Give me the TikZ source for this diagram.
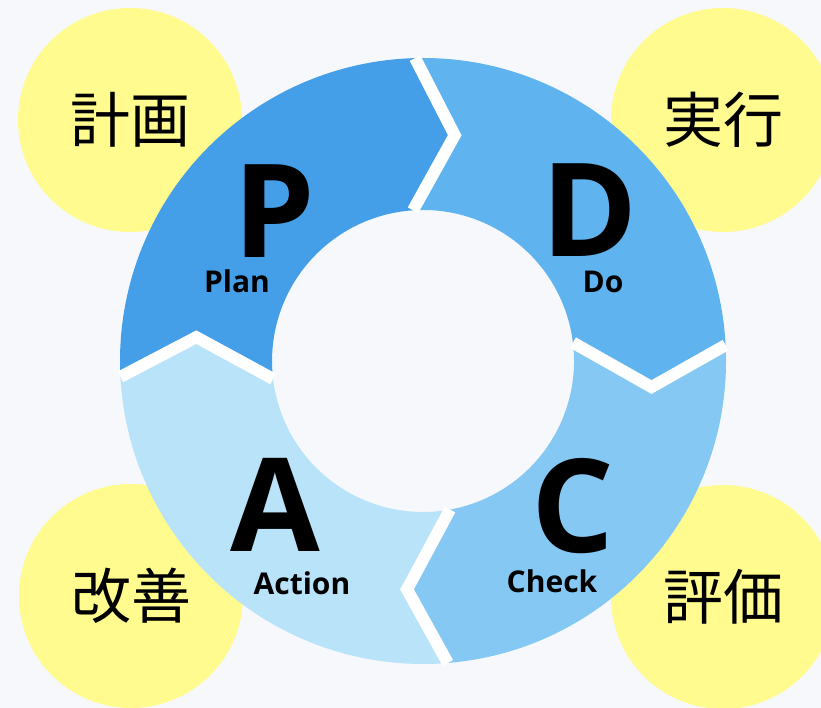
\documentclass[tikz,border=0pt]{standalone}
\usepackage{fontspec}
\setmainfont{Open Sans}
\newfontfamily\cjk{Noto Sans CJK JP}
\definecolor{bgcol}{HTML}{F7F8FC}
\definecolor{yel}{HTML}{FFFB8E}
\definecolor{pcol}{HTML}{449FE8}
\definecolor{dcol}{HTML}{5FB3EF}
\definecolor{ccol}{HTML}{85C8F3}
\definecolor{acol}{HTML}{B9E3F9}
\tikzset{
  yc/.style={circle, fill=yel, minimum size=224pt, inner sep=0pt,
    font=\cjk\fontsize{60}{60}\selectfont},
  bigletter/.style={anchor=base, inner sep=0pt, text depth=0pt, text height=94pt,
    font=\bfseries\fontsize{130}{130}\selectfont},
  smallword/.style={anchor=base, inner sep=0pt, text depth=0pt, text height=22pt,
    font=\bfseries\fontsize{30}{30}\selectfont},
  gapline/.style={draw=white, line width=12pt, line join=miter}
}
\begin{document}
\begin{tikzpicture}[x=1pt,y=1pt]
\useasboundingbox (0,0) rectangle (821,708);
\fill[bgcol] (0,0) rectangle (821,708);
% yellow circles
\node[yc] (keikaku) at (130,588) {計画};
\node[yc] (jikkou) at (723,588) {実行};
\node[yc] (kaizen) at (131,112) {改善};
\node[yc] (hyouka) at (723,111) {評価};
% ring
\begin{scope}[shift={(423,347)}]
  \coordinate (OT) at (91.5:303);
  \coordinate (AT) at (82:228);
  \coordinate (IT) at (93.8:151);
  \coordinate (OR) at (3:303);
  \coordinate (AR) at (-6.5:230);
  \coordinate (IR) at (7:151);
  \coordinate (OB) at (-85.3:303);
  \coordinate (AB) at (-94:229);
  \coordinate (IB) at (-79.7:151);
  \coordinate (OL) at (183:303);
  \coordinate (AL) at (174:228);
  \coordinate (IL) at (186.8:151);
  % Plan
  \fill[pcol] (OL) arc[start angle=183, end angle=91.5, radius=303]
    -- (AT) -- (IT) arc[start angle=93.8, end angle=186.8, radius=151]
    -- (AL) -- cycle;
  % Do
  \fill[dcol] (OT) arc[start angle=91.5, end angle=3, radius=303]
    -- (AR) -- (IR) arc[start angle=7, end angle=93.8, radius=151]
    -- (AT) -- cycle;
  % Check
  \fill[ccol] (OR) arc[start angle=3, end angle=-85.3, radius=303]
    -- (AB) -- (IB) arc[start angle=-79.7, end angle=7, radius=151]
    -- (AR) -- cycle;
  % Action
  \fill[acol] (OB) arc[start angle=-85.3, end angle=-177, radius=303]
    -- (AL) -- (IL) arc[start angle=-173.2, end angle=-79.7, radius=151]
    -- (AB) -- cycle;
  % white gaps
  \draw[gapline] (OT) -- (AT) -- (IT);
  \draw[gapline] (OR) -- (AR) -- (IR);
  \draw[gapline] (OB) -- (AB) -- (IB);
  \draw[gapline] (OL) -- (AL) -- (IL);
\end{scope}
% letters
\node[bigletter] (P) at (274,450) {P};
\node[bigletter] (D) at (590,451) {D};
\node[bigletter] (C) at (573,155) {C};
\node[bigletter] (A) at (275,156) {A};
\node[smallword] (plan) at (237,415) {Plan};
\node[smallword] (do) at (603,415) {Do};
\node[smallword] (check) at (552,115) {Check};
\node[smallword] (action) at (302,113) {Action};
\end{tikzpicture}
\end{document}
